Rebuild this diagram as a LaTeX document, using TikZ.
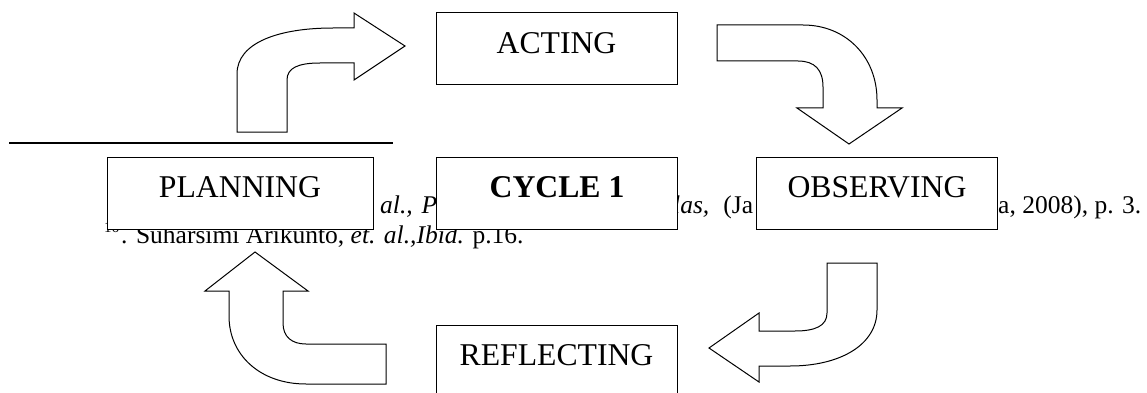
\documentclass[tikz,border=0pt]{standalone}
\usepackage{fontspec}
\setmainfont{Liberation Serif}
\newcommand{\boxfnt}{\fontsize{31.7}{38}\selectfont}
\newcommand{\notefnt}{\fontsize{25.5}{30}\selectfont}
\newcommand{\supfnt}{\fontsize{15}{17}\selectfont}
\begin{document}
\begin{tikzpicture}[x=1pt,y=-1pt,
  box/.style={draw, line width=1pt, fill=white, minimum width=241pt, minimum height=72pt,
    text height=21pt, text depth=12pt, inner sep=0pt, font=\boxfnt},
  barrow/.style={draw, line width=1pt, fill=white, line join=miter},
  note/.style={font=\notefnt, anchor=base west, inner sep=0pt},
  rule/.style={line width=2.5pt}]
\clip (0,0) rectangle (1147,393);
\fill[white] (0,0) rectangle (1147,393);
% footnote separator
\coordinate (r1) at (9,143);
\coordinate (r2) at (393,143);
\draw[rule] (r1) -- (r2);
% footnote fragments (partly hidden by the boxes)
\node[note] (f1) at (380,213) {\textit{al.,\hspace{0.35em}P}};
\node[note] (f2) at (673,213) {\textit{las,}\hspace{0.55em}(Ja};
\node[note] (f3) at (998,213) {a, 2008), p. 3.};
\node[note] (f4) at (104,232) {\supfnt 16};
\node[note] (f5) at (121,243) {. Suharsimi Arikunto, \textit{et. al.,Ibid.} p.16.};
% boxes
\node[box] (act) at (556.5,49) {ACTING};
\node[box, minimum width=266pt] (plan) at (240,193) {PLANNING};
\node[box] (cyc) at (557,193) {\bfseries CYCLE 1};
\node[box] (obs) at (877,193) {OBSERVING};
\node[box] (refl) at (556.5,361) {REFLECTING};
% planning -> acting
\draw[barrow] (237,132) -- (237,74) .. controls (237,42) and (280,28) .. (333,28)
  -- (354,28) -- (354,13) -- (405,46) -- (354,80) -- (354,63) -- (320,63)
  .. controls (298,63) and (287,68) .. (287,80) -- (287,132) -- cycle;
% acting -> observing
\draw[barrow] (717,25) -- (803,25) .. controls (846,25) and (877,57) .. (877,100)
  -- (877,108) -- (902,108) -- (849,144) -- (797,108) -- (823,108) -- (823,87)
  .. controls (823,70) and (815,61) .. (798,61) -- (717,61) -- cycle;
% observing -> reflecting
\draw[barrow] (827,263) -- (877,263) -- (877,310) .. controls (877,345) and (840,366) .. (790,366)
  -- (759,366) -- (759,382) -- (709,348) -- (759,313) -- (759,331) -- (795,331)
  .. controls (815,331) and (827,326) .. (827,313) -- cycle;
% reflecting -> planning
\draw[barrow] (386,344) -- (386,384) -- (306,384) .. controls (260,384) and (229,355) .. (229,316)
  -- (229,291) -- (205,291) -- (255,252) -- (308,291) -- (283,291) -- (283,323)
  .. controls (283,337) and (292,344) .. (306,344) -- cycle;
\end{tikzpicture}
\end{document}
